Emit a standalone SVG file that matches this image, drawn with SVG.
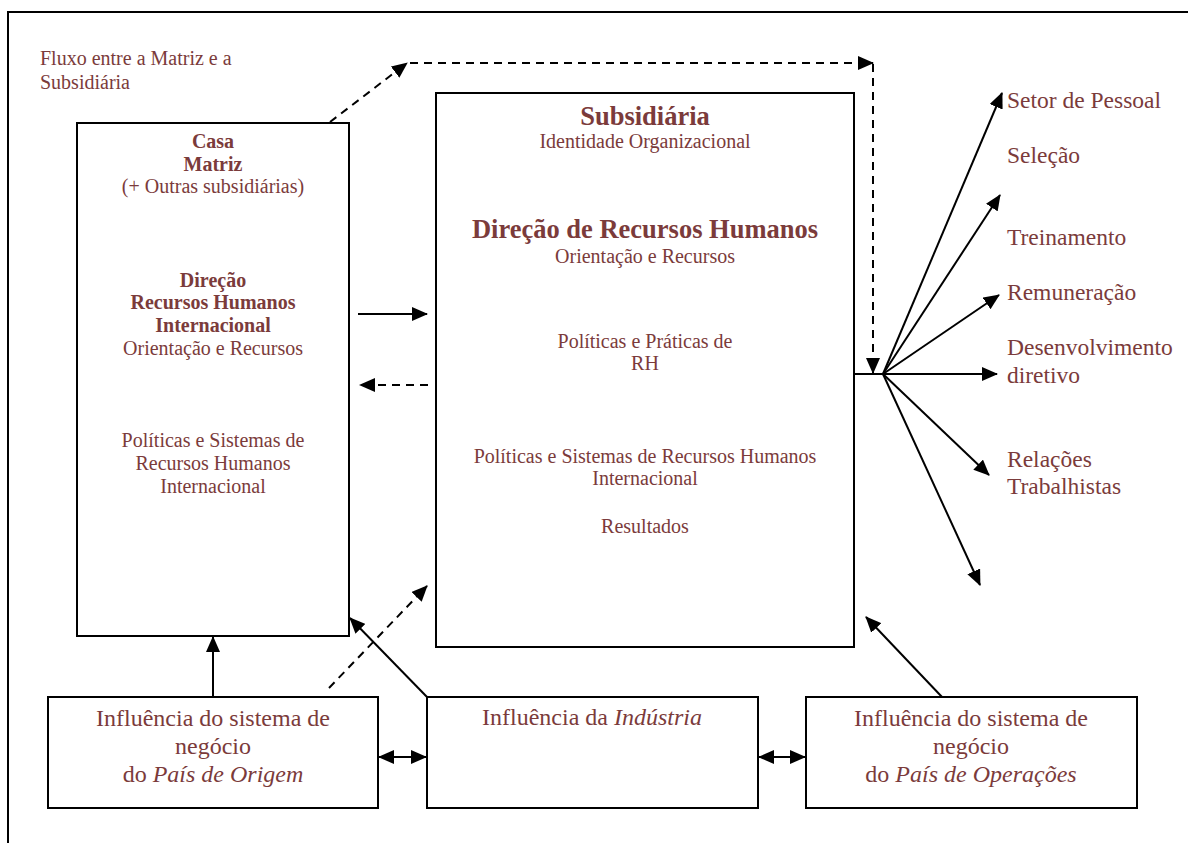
<svg xmlns="http://www.w3.org/2000/svg" width="1188" height="843" viewBox="0 0 1188 843">
<style>
.box{fill:#fff;stroke:#000;stroke-width:2}
.ln{fill:none;stroke:#000;stroke-width:2}
.dash{stroke-dasharray:8 6}
text{font-family:"Liberation Serif","Times New Roman",serif;fill:#7B3B3B;font-size:20px}
.c{text-anchor:middle}
.b{font-weight:bold}
.h{font-size:26.5px;font-weight:bold}
.r{font-size:23.5px}
.m{font-size:24px}
.i{font-style:italic}
</style>
<defs>
<marker id="ah" viewBox="0 0 16 14" markerWidth="16" markerHeight="14" refX="15" refY="7" orient="auto-start-reverse" markerUnits="userSpaceOnUse">
<path d="M0,0 L16,7 L0,14 z" fill="#000"/>
</marker>
</defs>
<rect width="1188" height="843" fill="#fff"/>
<g id="frame">
<path class="ln" d="M8,843 L8,12 L1188,12"/>
</g>
<g id="label-fluxo">
<text x="40" y="65">Fluxo entre a Matriz e a</text>
<text x="40" y="89">Subsidiária</text>
</g>
<g id="casa-matriz">
<rect class="box" x="77" y="123" width="272" height="513"/>
<text class="c b" x="213" y="148">Casa</text>
<text class="c b" x="213" y="171">Matriz</text>
<text class="c" x="213" y="193">(+ Outras subsidiárias)</text>
<text class="c b" x="213" y="287">Direção</text>
<text class="c b" x="213" y="309">Recursos Humanos</text>
<text class="c b" x="213" y="332">Internacional</text>
<text class="c" x="213" y="355">Orientação e Recursos</text>
<text class="c" x="213" y="447">Políticas e Sistemas de</text>
<text class="c" x="213" y="470">Recursos Humanos</text>
<text class="c" x="213" y="493">Internacional</text>
</g>
<g id="subsidiaria">
<rect class="box" x="436" y="93" width="418" height="554"/>
<text class="c h" x="645" y="125">Subsidiária</text>
<text class="c" x="645" y="148">Identidade Organizacional</text>
<text class="c h" x="645" y="238">Direção de Recursos Humanos</text>
<text class="c" x="645" y="263">Orientação e Recursos</text>
<text class="c" x="645" y="348">Políticas e Práticas de</text>
<text class="c" x="645" y="370">RH</text>
<text class="c" x="645" y="463">Políticas e Sistemas de Recursos Humanos</text>
<text class="c" x="645" y="485">Internacional</text>
<text class="c" x="645" y="533">Resultados</text>
</g>
<g id="pais-origem">
<rect class="box" x="48" y="697" width="330" height="111"/>
<text class="c m" x="213" y="726">Influência do sistema de</text>
<text class="c m" x="213" y="754">negócio</text>
<text class="c m" x="213" y="782">do <tspan class="i">País de Origem</tspan></text>
</g>
<g id="industria">
<rect class="box" x="427" y="697" width="331" height="111"/>
<text class="c m" x="592" y="725">Influência da <tspan class="i">Indústria</tspan></text>
</g>
<g id="pais-operacoes">
<rect class="box" x="806" y="697" width="331" height="111"/>
<text class="c m" x="971" y="726">Influência do sistema de</text>
<text class="c m" x="971" y="754">negócio</text>
<text class="c m" x="971" y="782">do <tspan class="i">País de Operações</tspan></text>
</g>
<g id="practices">
<text class="r" x="1007" y="108">Setor de Pessoal</text>
<text class="r" x="1007" y="163">Seleção</text>
<text class="r" x="1007" y="245">Treinamento</text>
<text class="r" x="1007" y="300">Remuneração</text>
<text class="r" x="1007" y="355">Desenvolvimento</text>
<text class="r" x="1007" y="383">diretivo</text>
<text class="r" x="1007" y="467">Relações</text>
<text class="r" x="1007" y="494">Trabalhistas</text>
</g>
<g id="connectors">
<path class="ln dash" d="M330,122 L407,63" marker-end="url(#ah)"/>
<path class="ln dash" d="M410,63 L873,63" marker-end="url(#ah)"/>
<path class="ln dash" d="M873,64 L873,373" marker-end="url(#ah)"/>
<path class="ln" d="M358,314 L427,314" marker-end="url(#ah)"/>
<path class="ln dash" d="M428,385 L360,385" marker-end="url(#ah)"/>
<path class="ln" d="M213,697 L213,637" marker-end="url(#ah)"/>
<path class="ln dash" d="M329,688 L427,586" marker-end="url(#ah)"/>
<path class="ln" d="M427,697 L350,618" marker-end="url(#ah)"/>
<path class="ln" d="M942,697 L866,617" marker-end="url(#ah)"/>
<path class="ln" d="M379,757 L426,757" marker-start="url(#ah)" marker-end="url(#ah)"/>
<path class="ln" d="M759,757 L805,757" marker-start="url(#ah)" marker-end="url(#ah)"/>
<path class="ln" d="M854,374 L997,374" marker-end="url(#ah)"/>
<path class="ln" d="M883,374 L1002,93" marker-end="url(#ah)"/>
<path class="ln" d="M883,374 L1000,195" marker-end="url(#ah)"/>
<path class="ln" d="M883,374 L999,295" marker-end="url(#ah)"/>
<path class="ln" d="M883,374 L989,475" marker-end="url(#ah)"/>
<path class="ln" d="M883,374 L980,585" marker-end="url(#ah)"/>
</g>
</svg>
